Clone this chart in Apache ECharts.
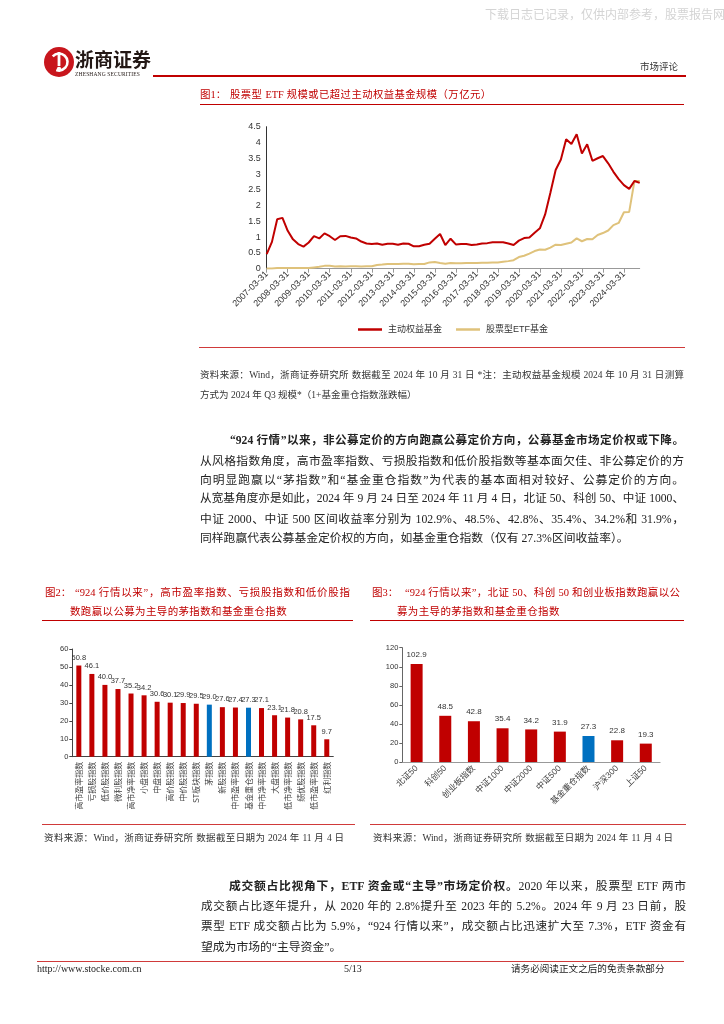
<!DOCTYPE html>
<html><head><meta charset="utf-8">
<script src="https://cdn.jsdelivr.net/npm/echarts/dist/echarts.min.js"></script>
<style>
html,body{margin:0;padding:0;background:#fff;}
body{width:724px;height:1024px;position:relative;overflow:hidden;}
#chart{position:absolute;left:0;top:0;width:724px;height:1024px;z-index:1;}
.ln{position:absolute;white-space:nowrap;height:16px;line-height:16px;font-family:"Liberation Serif","Noto Sans CJK SC",serif;color:#222;z-index:2;}
.jf{text-align:justify;text-align-last:justify;}
.red{color:#c00000;}
.hr{position:absolute;z-index:2;}
b{font-weight:700;}
</style>
</head><body>
<div id="chart"></div>

<!-- header -->
<div class="ln" style="left:485px;top:6px;font-size:12px;color:#d4d4d4;font-family:'Noto Sans CJK SC';">下载日志已记录，仅供内部参考，股票报告网</div>
<div class="ln" style="left:75px;top:48px;height:22px;line-height:22px;font-size:19px;font-weight:700;color:#231815;font-family:'Noto Sans CJK SC';">浙商证券</div>
<div class="ln" style="left:75px;top:71px;height:6px;line-height:6px;font-size:5.5px;letter-spacing:0.15px;color:#231815;font-family:'Liberation Serif';">ZHESHANG SECURITIES</div>
<div class="ln" style="left:640px;top:58px;font-size:9.5px;color:#333;font-family:'Noto Sans CJK SC';">市场评论</div>
<div class="hr" style="left:153px;top:75px;width:533px;height:2px;background:#c00000;"></div>

<!-- figure 1 title -->
<div class="ln red" style="left:200px;top:87px;font-size:10.5px;">图1：</div>
<div class="ln red jf" style="left:230px;top:87px;width:261px;font-size:10.3px;">股票型 ETF 规模或已超过主动权益基金规模（万亿元）</div>
<div class="hr" style="left:200px;top:104px;width:484px;height:1px;background:#c00000;"></div>
<div class="hr" style="left:199px;top:347px;width:486px;height:1px;background:#d03a3a;"></div>

<!-- source 1 -->
<div class="ln jf" style="left:200px;top:367px;width:484px;font-size:9.5px;color:#333;">资料来源：Wind，浙商证券研究所 数据截至 2024 年 10 月 31 日 *注：主动权益基金规模 2024 年 10 月 31 日测算</div>
<div class="ln" style="left:200px;top:387px;font-size:9.5px;color:#333;">方式为 2024 年 Q3 规模*（1+基金重仓指数涨跌幅）</div>

<!-- paragraph 1 -->
<div class="ln jf" style="left:230px;top:433px;width:454px;font-size:11.6px;font-weight:700;"><b>“924 行情”以来，非公募定价的方向跑赢公募定价方向，公募基金市场定价权或下降。</b></div>
<div class="ln jf" style="left:200px;top:452.5px;width:484px;font-size:11.8px;">从风格指数角度，高市盈率指数、亏损股指数和低价股指数等基本面欠佳、非公募定价的方</div>
<div class="ln jf" style="left:200px;top:472px;width:484px;font-size:11.8px;">向明显跑赢以“茅指数”和“基金重仓指数”为代表的基本面相对较好、公募定价的方向。</div>
<div class="ln jf" style="left:200px;top:491px;width:484px;font-size:11.6px;">从宽基角度亦是如此，2024 年 9 月 24 日至 2024 年 11 月 4 日，北证 50、科创 50、中证 1000、</div>
<div class="ln jf" style="left:200px;top:510.5px;width:484px;font-size:11.8px;">中证 2000、中证 500 区间收益率分别为 102.9%、48.5%、42.8%、35.4%、34.2%和 31.9%，</div>
<div class="ln" style="left:200px;top:530px;font-size:11.8px;">同样跑赢代表公募基金定价权的方向，如基金重仓指数（仅有 27.3%区间收益率）。</div>

<!-- figure 2/3 titles -->
<div class="ln red" style="left:45px;top:585px;font-size:10.5px;">图2：</div>
<div class="ln red jf" style="left:75px;top:585px;width:275px;font-size:10.5px;">“924 行情以来”，高市盈率指数、亏损股指数和低价股指</div>
<div class="ln red" style="left:70px;top:604px;font-size:10.5px;letter-spacing:0.35px;">数跑赢以公募为主导的茅指数和基金重仓指数</div>
<div class="hr" style="left:42px;top:620px;width:311px;height:1px;background:#c00000;"></div>

<div class="ln red" style="left:372px;top:585px;font-size:10.5px;">图3：</div>
<div class="ln red jf" style="left:405px;top:585px;width:275px;font-size:10.5px;">“924 行情以来”，北证 50、科创 50 和创业板指数跑赢以公</div>
<div class="ln red" style="left:397px;top:604px;font-size:10.5px;letter-spacing:0.35px;">募为主导的茅指数和基金重仓指数</div>
<div class="hr" style="left:370px;top:620px;width:314px;height:1px;background:#c00000;"></div>

<!-- figure 2/3 sources -->
<div class="hr" style="left:42px;top:824px;width:313px;height:1px;background:#d03a3a;"></div>
<div class="hr" style="left:370px;top:824px;width:316px;height:1px;background:#d03a3a;"></div>
<div class="ln jf" style="left:44px;top:830px;width:300px;font-size:9.5px;color:#333;">资料来源：Wind，浙商证券研究所 数据截至日期为 2024 年 11 月 4 日</div>
<div class="ln jf" style="left:373px;top:830px;width:300px;font-size:9.5px;color:#333;">资料来源：Wind，浙商证券研究所 数据截至日期为 2024 年 11 月 4 日</div>

<!-- paragraph 2 -->
<div class="ln jf" style="left:229px;top:878px;width:457px;font-size:11.8px;"><b>成交额占比视角下，ETF 资金或“主导”市场定价权。</b>2020 年以来，股票型 ETF 两市</div>
<div class="ln jf" style="left:201px;top:898.5px;width:485px;font-size:11.6px;">成交额占比逐年提升，从 2020 年的 2.8%提升至 2023 年的 5.2%。2024 年 9 月 23 日前，股</div>
<div class="ln jf" style="left:201px;top:919px;width:485px;font-size:11.6px;">票型 ETF 成交额占比为 5.9%，“924 行情以来”，成交额占比迅速扩大至 7.3%，ETF 资金有</div>
<div class="ln" style="left:201px;top:938.5px;font-size:11.8px;">望成为市场的“主导资金”。</div>

<!-- footer -->
<div class="hr" style="left:37px;top:961px;width:647px;height:1px;background:#d03a3a;"></div>
<div class="ln" style="left:37px;top:961px;font-size:10px;color:#222;">http://www.stocke.com.cn</div>
<div class="ln" style="left:344px;top:961px;font-size:10px;color:#222;">5/13</div>
<div class="ln" style="left:511px;top:961px;font-size:9.6px;color:#222;">请务必阅读正文之后的免责条款部分</div>

<script>
// ---------- Figure 1 data (万亿元) ----------
const quarters = [
 '2007-03-31','2007-06-30','2007-09-30','2007-12-31',
 '2008-03-31','2008-06-30','2008-09-30','2008-12-31',
 '2009-03-31','2009-06-30','2009-09-30','2009-12-31',
 '2010-03-31','2010-06-30','2010-09-30','2010-12-31',
 '2011-03-31','2011-06-30','2011-09-30','2011-12-31',
 '2012-03-31','2012-06-30','2012-09-30','2012-12-31',
 '2013-03-31','2013-06-30','2013-09-30','2013-12-31',
 '2014-03-31','2014-06-30','2014-09-30','2014-12-31',
 '2015-03-31','2015-06-30','2015-09-30','2015-12-31',
 '2016-03-31','2016-06-30','2016-09-30','2016-12-31',
 '2017-03-31','2017-06-30','2017-09-30','2017-12-31',
 '2018-03-31','2018-06-30','2018-09-30','2018-12-31',
 '2019-03-31','2019-06-30','2019-09-30','2019-12-31',
 '2020-03-31','2020-06-30','2020-09-30','2020-12-31',
 '2021-03-31','2021-06-30','2021-09-30','2021-12-31',
 '2022-03-31','2022-06-30','2022-09-30','2022-12-31',
 '2023-03-31','2023-06-30','2023-09-30','2023-12-31',
 '2024-03-31','2024-06-30','2024-09-30','2024-10-31'
];
const activeEquityFund = [
 0.46,0.85,1.57,1.61,1.20,0.93,0.78,0.70,0.83,1.03,
 0.96,1.12,1.03,0.91,1.03,1.04,0.99,0.96,0.86,0.80,
 0.78,0.80,0.76,0.79,0.79,0.76,0.80,0.79,0.71,0.71,
 0.76,0.79,0.95,1.10,0.75,0.95,0.77,0.78,0.78,0.75,
 0.77,0.80,0.81,0.84,0.84,0.84,0.80,0.75,0.89,0.97,
 0.99,1.14,1.28,1.72,2.41,3.13,3.46,4.10,3.95,4.26,
 3.65,3.94,3.42,3.50,3.57,3.34,3.07,2.84,2.65,2.53,
 2.78,2.72
];
const stockEtfFund = [
 0.01,0.01,0.02,0.02,0.02,0.02,0.02,0.02,0.02,0.04,
 0.06,0.09,0.09,0.07,0.08,0.07,0.08,0.08,0.07,0.08,
 0.08,0.12,0.13,0.15,0.15,0.15,0.16,0.16,0.14,0.15,
 0.15,0.20,0.21,0.18,0.16,0.18,0.17,0.17,0.18,0.18,
 0.18,0.19,0.19,0.20,0.20,0.22,0.24,0.27,0.37,0.41,
 0.48,0.56,0.61,0.60,0.67,0.76,0.75,0.79,0.83,0.96,
 0.87,0.94,0.93,1.07,1.13,1.21,1.38,1.45,1.79,1.80,
 2.78,2.78
];
const seriesNames1 = ['主动权益基金','股票型ETF基金'];

// ---------- Figure 2 data (%) ----------
const styleIndexNames = ['高市盈率指数','亏损股指数','低价股指数','微利股指数','高市净率指数','小盘指数','中盘指数','高价股指数','中价股指数','ST板块指数','茅指数','新股指数','中市盈率指数','基金重仓指数','中市净率指数','大盘指数','低市净率指数','绩优股指数','低市盈率指数','红利指数'];
const styleIndexReturns = [50.8,46.1,40.0,37.7,35.2,34.2,30.6,30.1,29.9,29.5,29.0,27.6,27.4,27.3,27.1,23.1,21.8,20.8,17.5,9.7];

// ---------- Figure 3 data (%) ----------
const broadIndexNames = ['北证50','科创50','创业板指数','中证1000','中证2000','中证500','基金重仓指数','沪深300','上证50'];
const broadIndexReturns = [102.9,48.5,42.8,35.4,34.2,31.9,27.3,22.8,19.3];

const publicFundIndices = ['茅指数','基金重仓指数'];

const RED = '#c00000', BLUE = '#0070c0', TAN = '#dfc27b';
const AX = 'Liberation Sans, Arial, Noto Sans CJK SC, sans-serif';
const barColor = p => publicFundIndices.includes(p.name) ? BLUE : RED;

const chart = echarts.init(document.getElementById('chart'), null, {renderer:'canvas'});
chart.setOption({
  animation:false,
  backgroundColor:'#fff',
  textStyle:{fontFamily:AX},
  graphic:[
    {type:'circle', shape:{cx:59, cy:62, r:15}, style:{fill:'#c8161d'}},
    {type:'arc', shape:{cx:59, cy:62, r:8.5, startAngle:-2.4, endAngle:1.9}, style:{stroke:'#fff', lineWidth:2.6, fill:null}},
    {type:'rect', shape:{x:57.6, y:52, width:2.8, height:14}, style:{fill:'#fff'}},
    {type:'circle', shape:{cx:59, cy:69, r:2.2}, style:{fill:'#fff'}}
  ],
  legend:{
    data:seriesNames1, left:353, top:320, icon:'rect', itemWidth:24, itemHeight:2.5, itemGap:14,
    textStyle:{fontSize:9, color:'#333', fontFamily:AX, padding:[0,0,0,1]}
  },
  grid:[
    {left:266.7, top:126.7, width:373, height:142},
    {left:72.3, top:649, width:261, height:107.7},
    {left:402.3, top:647.7, width:257.8, height:114.3}
  ],
  xAxis:[
    {gridIndex:0, type:'category', data:quarters, boundaryGap:false,
     axisLine:{lineStyle:{color:'#999', width:1}},
     axisTick:{interval:3, length:4, lineStyle:{color:'#999'}},
     axisLabel:{interval:3, rotate:45, fontSize:9, color:'#333', margin:4}},
    {gridIndex:1, type:'category', data:styleIndexNames,
     axisLine:{lineStyle:{color:'#444', width:1}},
     axisTick:{length:3, lineStyle:{color:'#444'}},
     axisLabel:{interval:0, rotate:90, fontSize:8, color:'#444', margin:5, fontFamily:'Noto Sans CJK SC'}},
    {gridIndex:2, type:'category', data:broadIndexNames,
     axisLine:{lineStyle:{color:'#999', width:1}},
     axisTick:{length:3, lineStyle:{color:'#999'}},
     axisLabel:{interval:0, rotate:45, fontSize:8.5, color:'#444', margin:5}}
  ],
  yAxis:[
    {gridIndex:0, type:'value', min:0, max:4.5, interval:0.5,
     axisLine:{show:true, lineStyle:{color:'#333'}}, axisTick:{show:false},
     splitLine:{show:false}, axisLabel:{fontSize:9, color:'#333', margin:6}},
    {gridIndex:1, type:'value', min:0, max:60, interval:10,
     axisLine:{show:true, lineStyle:{color:'#444'}}, axisTick:{show:true, length:3, lineStyle:{color:'#444'}},
     splitLine:{show:false}, axisLabel:{fontSize:7.5, color:'#333', margin:4}},
    {gridIndex:2, type:'value', min:0, max:120, interval:20,
     axisLine:{show:true, lineStyle:{color:'#666'}}, axisTick:{show:true, length:3, lineStyle:{color:'#666'}},
     splitLine:{show:false}, axisLabel:{fontSize:7.5, color:'#333', margin:4}}
  ],
  series:[
    {name:seriesNames1[0], type:'line', xAxisIndex:0, yAxisIndex:0, data:activeEquityFund,
     symbol:'none', lineStyle:{color:RED, width:2}, itemStyle:{color:RED}, z:3},
    {name:seriesNames1[1], type:'line', xAxisIndex:0, yAxisIndex:0, data:stockEtfFund,
     symbol:'none', lineStyle:{color:TAN, width:2}, itemStyle:{color:TAN}, z:2},
    {type:'bar', xAxisIndex:1, yAxisIndex:1, data:styleIndexReturns, barWidth:5,
     itemStyle:{color:barColor},
     label:{show:true, position:'top', distance:4, fontSize:7.5, color:'#333',
            formatter:p => p.value.toFixed(1)}},
    {type:'bar', xAxisIndex:2, yAxisIndex:2, data:broadIndexReturns, barWidth:12,
     itemStyle:{color:barColor},
     label:{show:true, position:'top', distance:5, fontSize:8, color:'#333',
            formatter:p => p.value.toFixed(1)}}
  ]
});
</script>
</body></html>
